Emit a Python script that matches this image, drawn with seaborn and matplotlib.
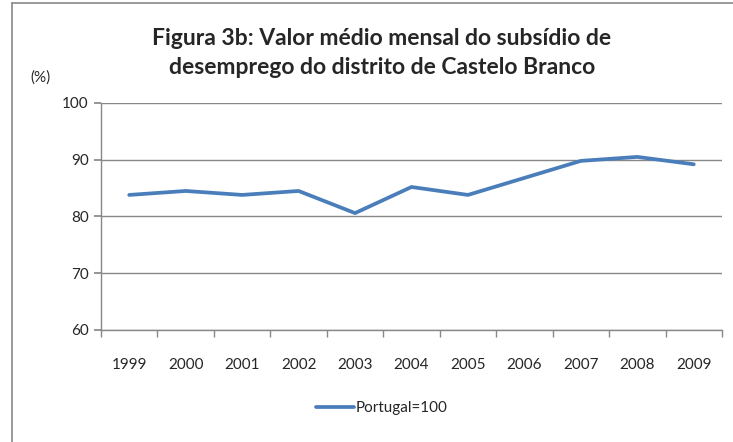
import matplotlib
matplotlib.use("Agg")
import matplotlib.pyplot as plt
import seaborn as sns
import pandas as pd
from matplotlib.lines import Line2D

years = ["1999", "2000", "2001", "2002", "2003", "2004", "2005", "2006", "2007", "2008", "2009"]
values = [83.8, 84.5, 83.8, 84.5, 80.6, 85.2, 83.8, 86.8, 89.8, 90.5, 89.2]
series_name = "Portugal=100"
title = "Figura 3b: Valor médio mensal do subsídio de\ndesemprego do distrito de Castelo Branco"
yticks = [60, 70, 80, 90, 100]

sns.set_theme(style="white")
plt.rcParams['font.family'] = ['Lato', 'DejaVu Sans']

df = pd.DataFrame({"Ano": years, "Valor": values})

fig = plt.figure(figsize=(7.33, 4.42), dpi=100)
ax = fig.add_axes([101/733, 1-330/442, (722-101)/733, (330-103)/442])

color = "#4A7EBB"
sns.lineplot(data=df, x="Ano", y="Valor", ax=ax, color=color, linewidth=2.7,
             sort=False, label=series_name, legend=False)

ax.set_ylim(60, 100)
ax.set_xlim(-0.5, len(years) - 0.5)
ax.set_yticks(yticks)
ax.set_yticklabels([str(v) for v in yticks], fontsize=11)
ax.set_xticks(range(len(years)))
ax.set_xticklabels(years, fontsize=11)
ax.set_xticks([i - 0.5 for i in range(len(years) + 1)], minor=True)
ax.tick_params(axis="x", which="major", length=0, pad=20)
ax.tick_params(axis="x", which="minor", length=5, color="#888888", direction="out", bottom=True)
ax.tick_params(axis="y", length=5, color="#888888", direction="out", left=True, pad=4)
ax.set_xlabel("")
ax.set_ylabel("")
ax.grid(axis="y", color="#888888", linewidth=1)
ax.grid(axis="x", visible=False)
for s in ["top", "right"]:
    ax.spines[s].set_visible(False)
for s in ["left", "bottom"]:
    ax.spines[s].set_color("#888888")
    ax.spines[s].set_linewidth(1)

fig.text(382/733, 1-53/442, title, ha="center", va="center", fontsize=16.5,
         fontweight="bold", linespacing=1.45)
fig.text(30/733, 1-78/442, "(%)", ha="left", va="center", fontsize=11)

handle = Line2D([], [], color=color, linewidth=2.7)
fig.legend([handle], [series_name], loc="center", bbox_to_anchor=(382/733, 1-408/442),
           frameon=False, fontsize=11, handlelength=2.5, handletextpad=0.1)

# outer chart frame
fig.add_artist(Line2D([12/733, 12/733], [0, 1-3/442], transform=fig.transFigure,
                      color="#888888", linewidth=1.2))
fig.add_artist(Line2D([12/733, 1], [1-3/442, 1-3/442], transform=fig.transFigure,
                      color="#888888", linewidth=1.2))

fig.savefig("out.png", dpi=100)
